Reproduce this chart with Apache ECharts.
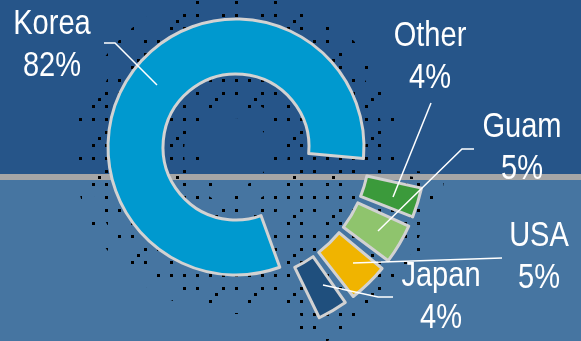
<!DOCTYPE html>
<html>
<head>
<meta charset="utf-8">
<script src="https://cdn.jsdelivr.net/npm/echarts@6/dist/echarts.min.js"></script>
<style>
  html, body { margin: 0; padding: 0; background: #265589; }
  #chart { width: 581px; height: 341px; }
</style>
</head>
<body>
<div id="chart"></div>
<script>
// Visitor origin shares (%)
const categories = ['Korea', 'Other', 'Guam', 'USA', 'Japan'];
const shares = [82, 4, 5, 5, 4];
// the main slice sits in the inner ring, the rest are pulled out into an outer band
const pulledOut = [false, true, true, true, true];

const sliceColors = ['#0099cf', '#3b9a3b', '#8fc46d', '#f0b400', '#1f4f7d'];

// Pie geometry
const CENTER = [236, 147];
const INNER_RING = [73, 128];
const OUTER_BAND = [134, 190];
const BORDER = '#d2d2d2';

// Label blocks (centre of the two-line text) and their leader lines
const labelSpots = {
  Korea: { x: 52,  y: 45,  line: [[157, 85], [115, 43], [104, 43]] },
  Other: { x: 430, y: 57,  line: [[393, 197], [431, 103]] },
  Guam:  { x: 522, y: 148, line: [[378, 231], [462, 149], [474, 149]] },
  USA:   { x: 539, y: 257, line: [[353, 263], [502, 258]] },
  Japan: { x: 441, y: 297, line: [[323, 285], [378, 297], [393, 297]] }
};

const FONT = '35px "Liberation Sans", Arial, sans-serif';

// Tile of black dots on a 13px lattice, used for the speckled halo behind the pie
function dotTile(points) {
  const c = document.createElement('canvas');
  c.width = 39; c.height = 39;
  const g = c.getContext('2d');
  g.fillStyle = '#000';
  points.forEach(function (p) { g.fillRect(p[0], p[1], 3, 3); });
  return c;
}
const farDots = dotTile([[1, 1], [27, 14], [14, 27]]);
const nearDots = dotTile([[14, 1], [1, 14], [27, 27], [27, 1], [20, 20]]);

const outerStart = 349;   // degrees, counter-clockwise from 3 o'clock
const outerEnd = 294.5;

function items(indices, styleFn) {
  return indices.map(function (i) {
    return { name: categories[i], value: shares[i], itemStyle: styleFn(i) };
  });
}
const allIdx = categories.map(function (_, i) { return i; });
const outerIdx = allIdx.filter(function (i) { return pulledOut[i]; });

function baseSeries(extra) {
  return Object.assign({
    type: 'pie',
    center: CENTER,
    clockwise: true,
    animation: false,
    silent: true,
    avoidLabelOverlap: false,
    label: { show: false },
    labelLine: { show: false },
    emphasis: { disabled: true }
  }, extra);
}

function pattern(tile) { return { color: { image: tile, repeat: 'repeat' }, borderWidth: 0 }; }
const haloCenter = [CENTER[0], CENTER[1] + 5];

const chart = echarts.init(document.getElementById('chart'), null, { renderer: 'canvas' });

const graphics = [];
categories.forEach(function (name, i) {
  const spot = labelSpots[name];
  graphics.push({
    type: 'polyline',
    z: 50,
    silent: true,
    shape: { points: spot.line },
    style: { stroke: '#ffffff', lineWidth: 1.5, fill: null }
  });
  graphics.push({
    type: 'text',
    z: 51,
    silent: true,
    x: spot.x,
    y: spot.y,
    scaleX: 0.83,
    style: {
      text: name + '\n' + shares[i] + '%',
      font: FONT,
      fill: '#ffffff',
      align: 'center',
      verticalAlign: 'middle',
      lineHeight: 42
    }
  });
});

chart.setOption({
  animation: false,
  backgroundColor: {
    type: 'linear', x: 0, y: 0, x2: 0, y2: 1,
    colorStops: [
      { offset: 0, color: '#265589' },
      { offset: 0.510, color: '#265589' },
      { offset: 0.510, color: '#a6a6a6' },
      { offset: 0.528, color: '#a6a6a6' },
      { offset: 0.528, color: '#4675a1' },
      { offset: 1, color: '#4675a1' }
    ]
  },
  graphic: graphics,
  series: [
    // speckled halo: sparse far band, denser close to the slices
    baseSeries({
      z: 1, center: haloCenter, radius: [34, 162], startAngle: 290,
      data: items(allIdx, function () { return pattern(farDots); })
    }),
    baseSeries({
      z: 2, center: haloCenter, radius: [52, 148], startAngle: 290,
      data: items(allIdx, function () { return pattern(nearDots); })
    }),
    baseSeries({
      z: 1, center: haloCenter, radius: [116, 210],
      startAngle: outerStart + 5, endAngle: outerEnd - 6,
      data: items(outerIdx, function () { return pattern(farDots); })
    }),
    baseSeries({
      z: 2, center: haloCenter, radius: [122, 202],
      startAngle: outerStart + 3, endAngle: outerEnd - 3,
      data: items(outerIdx, function () { return pattern(nearDots); })
    }),
    // inner ring: main slice, the others leave an open gap
    baseSeries({
      z: 5,
      radius: INNER_RING,
      startAngle: 290,
      data: items(allIdx, function (i) {
        return pulledOut[i]
          ? { color: 'transparent', borderWidth: 0 }
          : { color: sliceColors[i], borderColor: BORDER, borderWidth: 3 };
      })
    }),
    // outer band: the small slices
    baseSeries({
      z: 5,
      radius: OUTER_BAND,
      startAngle: outerStart,
      endAngle: outerEnd,
      padAngle: 3,
      data: items(outerIdx, function (i) {
        return { color: sliceColors[i], borderColor: BORDER, borderWidth: 3, borderJoin: 'round' };
      })
    })
  ]
});
</script>
</body>
</html>
